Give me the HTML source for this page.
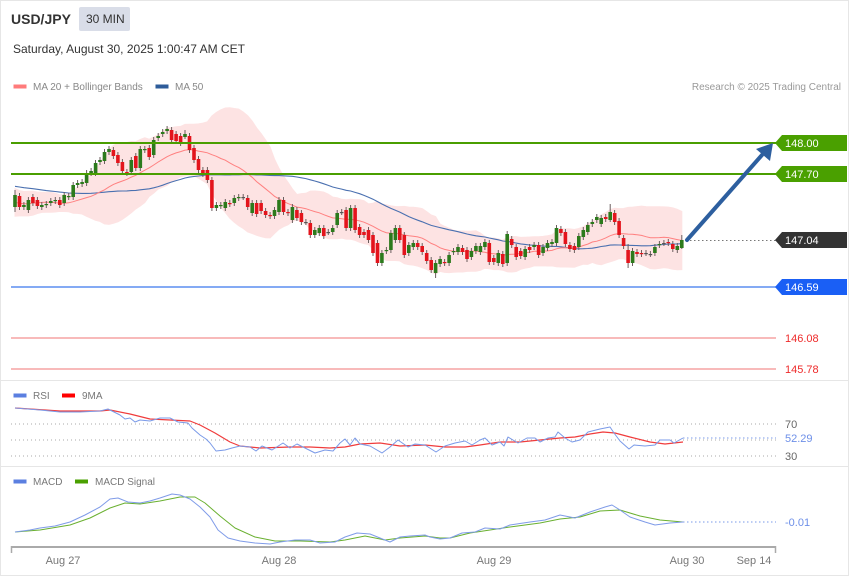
<!DOCTYPE html>
<html>
<head>
<meta charset="utf-8">
<style>
html,body{margin:0;padding:0;background:#fff;}
body{width:850px;height:576px;overflow:hidden;position:relative;font-family:"Liberation Sans",Arial,sans-serif;}
svg{position:absolute;left:0;top:0;}
</style>
</head>
<body>
<svg id="c" width="850" height="576" viewBox="0 0 850 576" xmlns="http://www.w3.org/2000/svg" font-family="Liberation Sans, Arial, sans-serif">
  <rect x="0.5" y="0.5" width="848" height="575" fill="#fff" stroke="#e6e6e6" stroke-width="1"/>

  <!-- Header -->
  <text x="11" y="24" font-size="14" font-weight="bold" fill="#333">USD/JPY</text>
  <rect x="79" y="7" width="51" height="24" rx="2" fill="#d9dde8"/>
  <text x="86" y="23" font-size="12" fill="#333">30 MIN</text>
  <text x="13" y="53" font-size="12" fill="#333">Saturday, August 30, 2025 1:00:47 AM CET</text>

  <!-- Legend main -->
  <rect x="13.5" y="84.5" width="13" height="4" fill="#ff7b7b"/>
  <text x="33" y="90" font-size="10" fill="#888">MA 20 + Bollinger Bands</text>
  <rect x="155.5" y="84.5" width="13" height="4" fill="#2e5c9a"/>
  <text x="175" y="90" font-size="10" fill="#888">MA 50</text>
  <text x="841" y="90" font-size="10" fill="#999" text-anchor="end">Research © 2025 Trading Central</text>

  <!-- main chart dynamic groups -->
  <g id="band"></g>
  <g id="mas"></g>
  <g id="cand"></g>

  <!-- Level lines -->
  <line x1="11" y1="143" x2="776" y2="143" stroke="#4a9e00" stroke-width="2"/>
  <line x1="11" y1="174" x2="776" y2="174" stroke="#4a9e00" stroke-width="2"/>
  <line x1="11" y1="287" x2="776" y2="287" stroke="#5b8ef0" stroke-width="1.5"/>
  <line x1="11" y1="338" x2="776" y2="338" stroke="#f5a3a3" stroke-width="1.5"/>
  <line x1="11" y1="369" x2="776" y2="369" stroke="#f5a3a3" stroke-width="1.5"/>
  <line x1="686" y1="240.5" x2="776" y2="240.5" stroke="#777" stroke-width="1" stroke-dasharray="1.5,2.5"/>

  <!-- Arrow -->
  <line x1="687" y1="240" x2="762" y2="155" stroke="#2d5f9f" stroke-width="4" stroke-linecap="round"/>
  <polygon points="773,143 770,161 756,149" fill="#2d5f9f"/>

  <!-- Tags -->
  <polygon points="775,143 782,135 847,135 847,151 782,151" fill="#4aa000"/>
  <text x="785" y="147" font-size="11" fill="#fff">148.00</text>
  <polygon points="775,174 782,166 847,166 847,182 782,182" fill="#4aa000"/>
  <text x="785" y="178" font-size="11" fill="#fff">147.70</text>
  <polygon points="775,240 782,232 847,232 847,248 782,248" fill="#333"/>
  <text x="785" y="244" font-size="11" fill="#fff">147.04</text>
  <polygon points="775,287 782,279 847,279 847,295 782,295" fill="#1a5ff5"/>
  <text x="785" y="291" font-size="11" fill="#fff">146.59</text>
  <text x="785" y="342" font-size="11" fill="#ee2a2a">146.08</text>
  <text x="785" y="373" font-size="11" fill="#ee2a2a">145.78</text>

  <!-- Separators -->
  <line x1="1" y1="380.5" x2="848" y2="380.5" stroke="#e6e6e6" stroke-width="1"/>
  <line x1="1" y1="466.5" x2="848" y2="466.5" stroke="#e6e6e6" stroke-width="1"/>

  <!-- RSI panel -->
  <rect x="13.5" y="393.5" width="13" height="4" fill="#5b7fe0"/>
  <text x="33" y="399" font-size="10" fill="#777">RSI</text>
  <rect x="62" y="393.5" width="13" height="4" fill="#f00"/>
  <text x="82" y="399" font-size="10" fill="#777">9MA</text>
  <line x1="11" y1="424" x2="776" y2="424" stroke="#aaa" stroke-width="1" stroke-dasharray="1,3"/>
  <line x1="11" y1="440" x2="776" y2="440" stroke="#aaa" stroke-width="1" stroke-dasharray="1,3"/>
  <line x1="11" y1="456" x2="776" y2="456" stroke="#aaa" stroke-width="1" stroke-dasharray="1,3"/>
  <line x1="683" y1="438" x2="776" y2="438" stroke="#7a9ae8" stroke-width="1" stroke-dasharray="1.5,2.5"/>
  <polyline fill="none" stroke="#f03c3c" stroke-width="1.2" stroke-linejoin="round" points="15,408 60,411 100,411 110,410 130,414 150,419 170,420 190,421 200,425 215,433 230,442 240,446 260,448 290,447 310,447 330,448 345,447 360,444 380,443 400,446 425,445 445,447 465,447 480,445 500,442 520,442 540,440 560,438 575,437 590,434 603,432 615,433 630,437 650,442 665,444 683,442"/>
  <polyline fill="none" stroke="#7a9ae8" stroke-width="1" stroke-linejoin="round" points="15,408 40,410 60,412 80,412 100,411 108,409 120,415 125,419 130,418 135,422 140,420 150,421 160,418 170,418 178,422 188,423 192,428 200,435 206,439 210,443 216,451 225,450 232,448 240,446 250,447 256,451 262,446 272,450 283,443 290,448 297,444 305,448 315,453 325,450 333,451 340,443 345,439 350,445 355,438 360,444 370,446 382,453 390,447 398,440 408,447 415,444 425,445 436,452 445,446 455,443 465,441 472,445 480,440 485,438 492,445 500,442 504,446 508,437 518,443 527,438 535,438 540,442 548,438 555,437 558,432 565,438 572,442 580,440 588,432 600,429 610,427 614,433 620,441 629,449 634,445 645,446 655,445 660,440 670,440 674,443 683,438"/>
  <text x="785" y="428" font-size="11" fill="#666">70</text>
  <text x="785" y="442" font-size="11" fill="#6d8fe8">52.29</text>
  <text x="785" y="460" font-size="11" fill="#666">30</text>

  <!-- MACD panel -->
  <rect x="13.5" y="479.5" width="13" height="4" fill="#5b7fe0"/>
  <text x="33" y="485" font-size="10" fill="#777">MACD</text>
  <rect x="75" y="479.5" width="13" height="4" fill="#4aa000"/>
  <text x="95" y="485" font-size="10" fill="#777">MACD Signal</text>
  <line x1="683" y1="522" x2="776" y2="522" stroke="#7a9ae8" stroke-width="1" stroke-dasharray="1.5,2.5"/>
  <polyline fill="none" stroke="#6ab030" stroke-width="1" stroke-linejoin="round" points="15,532 40,530 70,525 90,518 110,508 125,503 140,504 160,501 180,497 195,497 205,503 220,516 235,528 255,537 275,541 300,541 330,542 345,540 365,536 385,540 400,538 425,536 440,538 450,538 470,533 490,530 510,527 540,523 560,519 580,517 600,511 620,510 640,516 660,520 683,522"/>
  <polyline fill="none" stroke="#7f9be8" stroke-width="1" stroke-linejoin="round" points="15,532 30,530 40,528 55,526 70,522 85,515 100,507 110,499 118,498 128,502 140,503 150,501 160,498 172,494 180,495 190,499 200,507 210,517 218,530 228,538 240,541 255,543 270,544 280,542 295,540 310,540 320,543 335,542 345,537 357,533 370,534 380,538 390,542 400,537 410,536 425,535 430,537 440,539 450,538 462,533 475,532 485,528 500,529 510,525 530,522 545,520 560,515 575,518 590,512 605,507 612,505 620,510 630,517 645,522 655,525 670,523 683,522"/>
  <text x="785" y="526" font-size="11" fill="#6d8fe8">-0.01</text>

  <!-- X axis -->
  <line x1="11" y1="547" x2="776" y2="547" stroke="#aaa" stroke-width="2"/>
  <line x1="11.5" y1="546" x2="11.5" y2="553" stroke="#aaa" stroke-width="1.5"/>
  <line x1="775.5" y1="546" x2="775.5" y2="553" stroke="#aaa" stroke-width="1.5"/>
  <text x="63" y="564" font-size="11" fill="#777" text-anchor="middle">Aug 27</text>
  <text x="279" y="564" font-size="11" fill="#777" text-anchor="middle">Aug 28</text>
  <text x="494" y="564" font-size="11" fill="#777" text-anchor="middle">Aug 29</text>
  <text x="687" y="564" font-size="11" fill="#777" text-anchor="middle">Aug 30</text>
  <text x="754" y="564" font-size="11" fill="#777" text-anchor="middle">Sep 14</text>
</svg>
<script>
(function(){
var NS="http://www.w3.org/2000/svg";
function el(n,a,p){var e=document.createElementNS(NS,n);for(var k in a)e.setAttribute(k,a[k]);p.appendChild(e);return e;}
var D=[[207,195,190,212],[196,207],[207,205],[210,200],[197,203],[200,206],[207,205],[205,204],[203,201],[201,200],
[200,205],[203,195],[197,196],[197,185],[185,183],[184,182],[183,173],[173,171],[173,163],[162,160],
[161,152],[152,149],[150,156],[155,163],[162,171],[172,173],[172,160],[156,168],[168,149],[150,149],
[148,157],[155,140],[138,136],[134,132],[131,129,126,134],[130,140],[134,141],[136,143],[137,134,130,139],[136,150],
[148,160],[159,170],[170,174],[170,180],[180,208],[208,205],[206,205],[208,202],[203,204],[203,198],
[198,197],[197,197],[198,207],[213,203],[203,214],[203,211],[211,215],[215,216],[216,210],[212,200],
[200,212],[212,213],[220,207],[210,218],[213,222],[222,222],[223,235],[235,230],[233,228],[228,236],
[232,232],[232,228],[225,213],[212,212],[210,228],[228,208],[208,230],[227,235],[232,235],[230,240],
[235,253],[243,263],[263,253],[251,250],[250,233],[240,228],[228,240],[235,255],[253,245],[247,243],
[243,247],[246,252],[253,261],[260,270],[273,263,260,278],[264,259],[262,263],[263,255],[252,251],[252,247],
[248,252],[250,259],[257,251],[251,246],[252,246],[247,242],[243,262],[258,262],[263,253],[254,264],
[263,234],[239,245],[247,257],[251,256],[257,249],[247,250],[247,245],[245,255],[253,247],[248,243],
[244,242],[243,228],[229,233],[232,244],[245,249],[246,250],[247,236],[237,230],[232,225],[224,222],
[220,217],[224,218],[217,219],[220,212,204,222],[213,222],[221,235],[238,246],[250,263,244,268],[263,251],[252,254],
[253,254],[253,253],[254,254],[253,247],[245,244],[243,243],[242,243],[244,249],[250,246],[248,240,235,249]];
var pre=[175,172,170,174,178,176,173,171,175,179,177,174,172,176,178,175,173,177,180,176,174,172,175,178,176,174,177,179,176,174,
185,190,196,203,210,215,212,206,200,196,192,196,202,208,212,207,201,198,203,206];
var cl=pre.concat(D.map(function(d){return d[1];}));
var N=D.length;
function X(i){return 15+i*4.475;}
var up=[],lo=[],m20=[],m50=[];
for(var i=0;i<N;i++){
  var k=i+pre.length,s=0,j;
  for(j=k-19;j<=k;j++)s+=cl[j];
  var m=s/20,v=0;
  for(j=k-19;j<=k;j++)v+=(cl[j]-m)*(cl[j]-m);
  var sd=Math.sqrt(v/20);
  m20.push(m);up.push(m-2*sd);lo.push(m+2*sd);
  s=0;for(j=k-49;j<=k;j++)s+=cl[j];m50.push(s/50);
}
var pts=[];
for(i=0;i<N;i++)pts.push(X(i).toFixed(1)+","+up[i].toFixed(1));
for(i=N-1;i>=0;i--)pts.push(X(i).toFixed(1)+","+lo[i].toFixed(1));
el("polygon",{points:pts.join(" "),fill:"#fde3e3",stroke:"#fde3e3","stroke-width":"1"},document.getElementById("band"));
var mg=document.getElementById("mas");
var p1=[],p2=[];
for(i=0;i<N;i++){p1.push(X(i).toFixed(1)+","+m20[i].toFixed(1));p2.push(X(i).toFixed(1)+","+m50[i].toFixed(1));}
el("polyline",{points:p2.join(" "),fill:"none",stroke:"#4a70b0","stroke-width":"1.1"},mg);
el("polyline",{points:p1.join(" "),fill:"none",stroke:"#ff8080","stroke-width":"1"},mg);
var cg=document.getElementById("cand");
for(i=0;i<N;i++){
  var d=D[i],o=d[0],c=d[1];
  var top=Math.min(o,c),bot=Math.max(o,c);
  var h=d.length>2?d[2]:top-3,l=d.length>3?d[3]:bot+3;
  var x=X(i);
  el("line",{x1:x.toFixed(1),y1:h,x2:x.toFixed(1),y2:l,stroke:"#6b5e5e","stroke-width":"1"},cg);
  var col=c<o?"#2c7a1c":(c>o?"#e3141c":"#555");
  var bh=Math.max(bot-top,1.2);
  el("rect",{x:(x-1.8).toFixed(1),y:top,width:"3.6",height:bh,fill:col},cg);
}
})();
</script>
</body>
</html>
